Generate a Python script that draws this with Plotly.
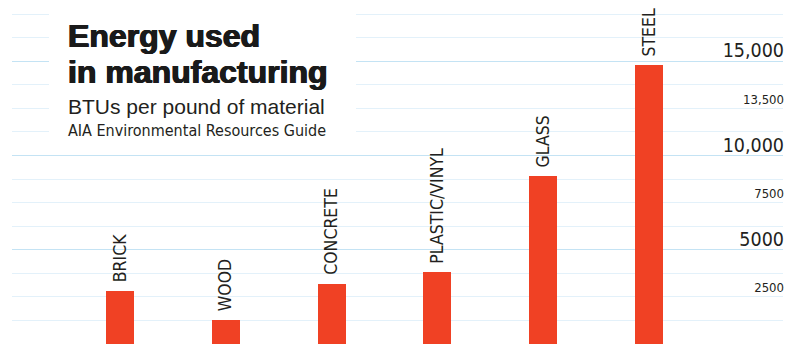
import plotly.graph_objects as go

materials = ["BRICK", "WOOD", "CONCRETE", "PLASTIC/VINYL", "GLASS", "STEEL"]
btu_per_lb = [2800, 1250, 3200, 3800, 8900, 14800]

major_ticks = [5000, 10000, 15000]
major_labels = ["5000", "10,000", "15,000"]
minor_ticks = [2500, 7500, 12500]
minor_labels = ["2500", "7500", "13,500"]
grid_step = 1250

title_lines = ["Energy used", "in manufacturing"]
subtitle = "BTUs per pound of material"
source = "AIA Environmental Resources Guide"

W, H = 787, 344
ML, MR = 12, 4
YMAX = 18250

COND = "DejaVu Sans Condensed, Liberation Sans Narrow, sans-serif"
SANS = "Liberation Sans, Arial, sans-serif"
BAR = "#F04124"
INK = "#231F20"

light_grid = [v for v in range(0, YMAX, grid_step) if v % 5000]

fig = go.Figure()
fig.add_trace(go.Bar(
    x=list(range(len(materials))), y=btu_per_lb,
    width=0.265, marker=dict(color=BAR, line=dict(width=0)),
    hoverinfo="skip", yaxis="y",
))

ann = []
for i, (m, v) in enumerate(zip(materials, btu_per_lb)):
    ann.append(dict(x=i, y=v, xref="x", yref="y", text=m, textangle=-90,
                    showarrow=False, xanchor="center", yanchor="bottom", yshift=7,
                    font=dict(family=COND, size=17.5, color=INK)))

def py(px):
    return 1 - px / H

tx = (66 - ML) / (W - ML - MR)
heavy = "0.7px 0 0 #1A1A1A, -0.7px 0 0 #1A1A1A, 0 0.4px 0 #1A1A1A"
ann.append(dict(x=tx, y=py(36), xref="paper", yref="paper", text=title_lines[0],
                showarrow=False, xanchor="left", yanchor="middle",
                font=dict(family=SANS, size=32, color="#1A1A1A", weight="bold", shadow=heavy)))
ann.append(dict(x=tx, y=py(71.5), xref="paper", yref="paper", text=title_lines[1],
                showarrow=False, xanchor="left", yanchor="middle",
                font=dict(family=SANS, size=32, color="#1A1A1A", weight="bold", shadow=heavy)))
ann.append(dict(x=tx, y=py(106.5), xref="paper", yref="paper", text=subtitle,
                showarrow=False, xanchor="left", yanchor="middle",
                font=dict(family=SANS, size=21, color=INK)))
ann.append(dict(x=tx, y=py(130.5), xref="paper", yref="paper", text=source,
                showarrow=False, xanchor="left", yanchor="middle",
                font=dict(family=COND, size=16, color=INK)))

fig.update_layout(
    width=W, height=H, margin=dict(l=ML, r=MR, t=0, b=0),
    paper_bgcolor="white", plot_bgcolor="white", showlegend=False,
    bargap=0,
    xaxis=dict(range=[-1.021, 6.267], showgrid=False, zeroline=False,
               showticklabels=False, showline=False, fixedrange=True),
    yaxis=dict(range=[0, YMAX], tickmode="array", tickvals=light_grid,
               showticklabels=False, ticks="", showgrid=True, gridcolor="#E3F1FA",
               gridwidth=1.2, zeroline=False, showline=False, side="right"),
    yaxis2=dict(range=[0, YMAX], overlaying="y", side="right", tickmode="array",
                tickvals=major_ticks, ticktext=major_labels, ticks="",
                showgrid=True, gridcolor="#C4E3F4", gridwidth=1.4, zeroline=False,
                ticklabelposition="inside top", ticklabelshift=3, ticklabelstandoff=-4,
                tickfont=dict(family=COND, size=19.5, color=INK)),
    yaxis3=dict(range=[0, YMAX], overlaying="y", side="right", tickmode="array",
                tickvals=minor_ticks, ticktext=minor_labels, ticks="",
                showgrid=False, zeroline=False,
                ticklabelposition="inside top", ticklabelshift=0, ticklabelstandoff=-4,
                tickfont=dict(family=COND, size=13, color=INK)),
    shapes=[dict(type="rect", xref="paper", yref="paper",
                 x0=(49 - ML) / (W - ML - MR), x1=(356 - ML) / (W - ML - MR),
                 y0=py(145), y1=py(10), fillcolor="white", line=dict(width=0),
                 layer="above")],
    annotations=ann,
)
fig.add_trace(go.Scatter(x=[None], y=[None], yaxis="y2", hoverinfo="skip"))
fig.add_trace(go.Scatter(x=[None], y=[None], yaxis="y3", hoverinfo="skip"))

fig.write_html("out.html")
